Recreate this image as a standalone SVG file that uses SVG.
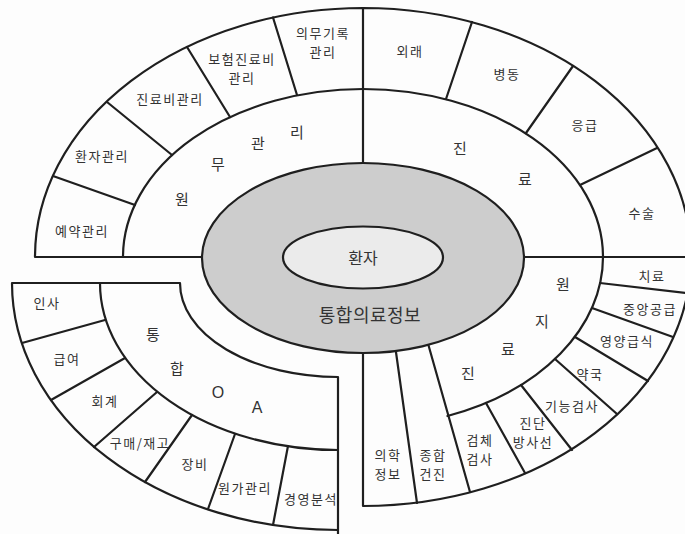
<svg xmlns="http://www.w3.org/2000/svg" width="685" height="534" viewBox="0 0 685 534">
<style>
.ln{fill:none;stroke:#1f1f1f;stroke-width:2.2;stroke-linecap:round;stroke-linejoin:round}
.t{font-family:"Noto Sans CJK KR","Noto Sans",sans-serif;font-size:13px;fill:#333;text-anchor:middle;dominant-baseline:central;letter-spacing:1.5px}
.r{font-size:15px;letter-spacing:0}
.l{font-family:"Liberation Sans",Arial,sans-serif;font-size:16px;letter-spacing:0}
.c{font-size:16px;letter-spacing:0}
.big{font-size:18px;letter-spacing:0.5px}
</style>
<rect x="0" y="0" width="685" height="534" fill="#fdfdfd"/>

<g id="connectors">
  <!-- main outline -->
  <path class="ln" d="M35 257 L210 257 M35 257 A328 249 0 1 1 363 506 M363 506 L363 345 M363 8 L363 170 M515 257 L692 257"/>
  <path class="ln" d="M123 257 A240 168 0 0 1 603 257 M603 257 A240 170 0 0 1 447.5 416"/>
  <!-- OA outline -->
  <path class="ln" d="M12 283 L180 283 M12 283 A326 247 0 0 0 338 530 M100 283 A238 167 0 0 0 338 450 M180 283 A158 94 0 0 0 338 377 M338 377 L338 534"/>
</g>

<g id="wonmu">
  <path class="ln" d="M53 176 L135 205 M107 102 L172 155 M187 47 L230 117 M273 17.5 L297 95"/>
  <text class="t" x="82" y="230">예약관리</text>
  <text class="t" x="102" y="155">환자관리</text>
  <text class="t" x="170" y="98">진료비관리</text>
  <text class="t" x="242" y="58">보험진료비</text>
  <text class="t" x="242" y="77">관리</text>
  <text class="t" x="323" y="32">의무기록</text>
  <text class="t" x="323" y="51">관리</text>
  <text class="t r" x="182" y="198">원</text>
  <text class="t r" x="218" y="163">무</text>
  <text class="t r" x="258" y="142">관</text>
  <text class="t r" x="297" y="131">리</text>
</g>

<g id="jinryo">
  <path class="ln" d="M472 22 L446 99 M573 66 L526 133 M657 148 L580 185"/>
  <text class="t" x="410" y="50">외래</text>
  <text class="t" x="507" y="73">병동</text>
  <text class="t" x="585" y="124">응급</text>
  <text class="t" x="642" y="212">수술</text>
  <text class="t r" x="460" y="147">진</text>
  <text class="t r" x="525" y="178">료</text>
</g>

<g id="jinryojiwon">
  <path class="ln" d="M600 283 L686 293 M592 308 L673 337 M575 337 L648 381 M555 359 L617 414 M521 385 L572 450 M486 403 L525 473 M427 340 L470 492 M395 345 L417 503"/>
  <text class="t" x="652" y="275">치료</text>
  <text class="t" x="650" y="308">중앙공급</text>
  <text class="t" x="627" y="340">영양급식</text>
  <text class="t" x="590" y="373">약국</text>
  <text class="t" x="572" y="405">기능검사</text>
  <text class="t" x="533" y="422">진단</text>
  <text class="t" x="533" y="441">방사선</text>
  <text class="t" x="480" y="439">검체</text>
  <text class="t" x="480" y="458">검사</text>
  <text class="t" x="433" y="454">종합</text>
  <text class="t" x="433" y="473">건진</text>
  <text class="t" x="388" y="454">의학</text>
  <text class="t" x="388" y="473">정보</text>
  <text class="t r" x="563" y="283">원</text>
  <text class="t r" x="542" y="320">지</text>
  <text class="t r" x="508" y="348">료</text>
  <text class="t r" x="468" y="372">진</text>
</g>

<g id="oa">
  <path class="ln" d="M22 343 L105 320 M51 400 L125 358 M94 447 L157 392 M145 482 L192 415 M208 509 L235 434 M273 525 L288 446"/>
  <text class="t" x="47" y="302">인사</text>
  <text class="t" x="67" y="358">급여</text>
  <text class="t" x="105" y="400">회계</text>
  <text class="t" x="140" y="442">구매/재고</text>
  <text class="t" x="195" y="463">장비</text>
  <text class="t" x="245" y="487">원가관리</text>
  <text class="t" x="311" y="498">경영분석</text>
  <text class="t r" x="153" y="333">통</text>
  <text class="t r" x="177" y="367">합</text>
  <text class="t l" x="218" y="392">O</text>
  <text class="t l" x="257" y="407">A</text>
</g>

<g id="center">
  <ellipse class="ln" cx="363" cy="258" rx="161" ry="95" style="fill:#cdcdcd"/>
  <ellipse class="ln" cx="363" cy="257.5" rx="80" ry="31" style="fill:#ebebeb"/>
  <text class="t c" x="363" y="257">환자</text>
  <text class="t big" x="370" y="314">통합의료정보</text>
</g>
</svg>
